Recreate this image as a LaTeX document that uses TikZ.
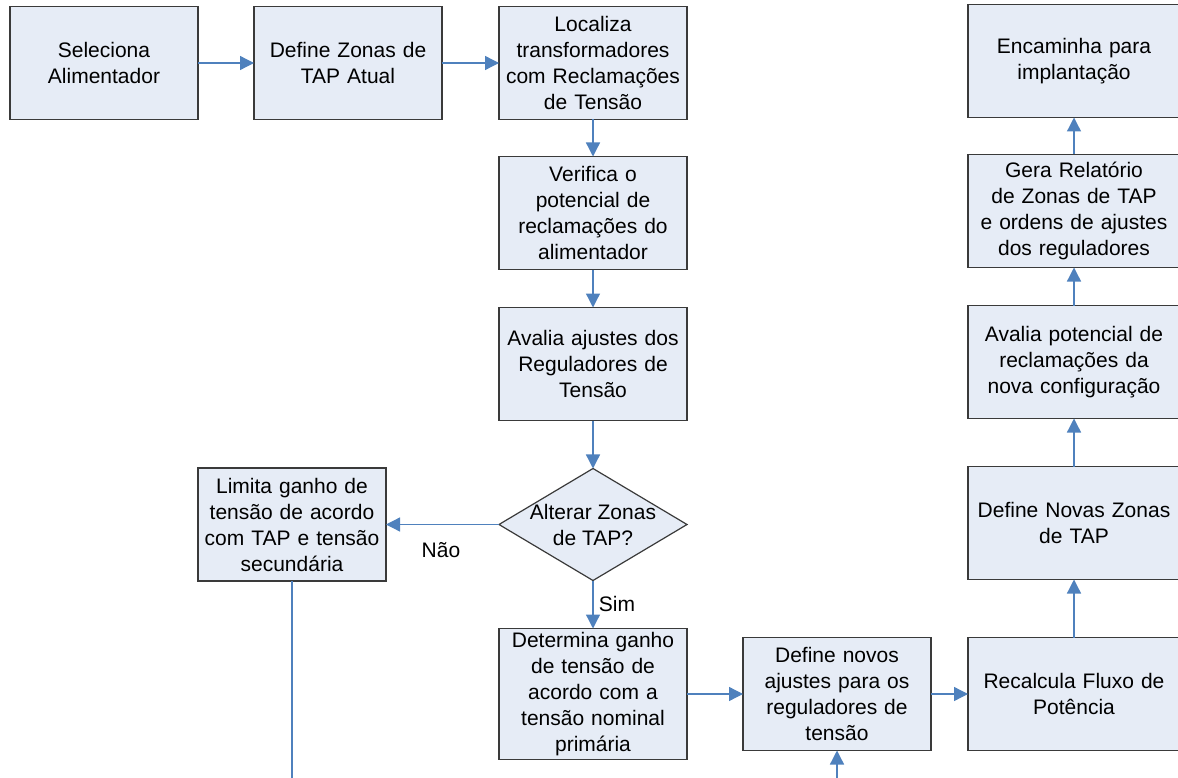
\documentclass[tikz,border=0pt]{standalone}
\usepackage{fontspec}
\setmainfont{Liberation Sans}
\usepackage{xcolor}
\usetikzlibrary{positioning, arrows.meta, shapes.geometric}
\definecolor{boxfill}{HTML}{E6ECF6}
\definecolor{boxline}{HTML}{3A3A3A}
\definecolor{flow}{HTML}{4F81BD}

\begin{document}
\begin{tikzpicture}[x=1pt, y=1pt,
  box/.style={rectangle, draw=boxline, line width=1.2pt, fill=boxfill,
              minimum width=188pt, minimum height=113pt, text width=186pt,
              align=center, inner sep=0pt, outer sep=0pt,
              font=\fontsize{21}{26}\selectfont},
  wbox/.style={box, minimum width=212pt, text width=210pt},
  tallbox/.style={box, minimum height=131pt},
  decision/.style={diamond, draw=boxline, line width=1.2pt, fill=boxfill,
              minimum width=188pt, minimum height=112pt, inner sep=0pt, outer sep=0pt},
  lbl/.style={font=\fontsize{21}{26}\selectfont, inner sep=0pt},
  arr/.style={-{Triangle[length=14pt, width=14pt]}, line width=1.3pt, flow},
  line/.style={line width=1.3pt, flow},
]
\useasboundingbox (0,0) rectangle (1178,-778);

%% Top row
\node[box] (sel) at (104,-63) {Seleciona\\Alimentador};
\node[box, right=56pt of sel] (def) {Define Zonas de\\TAP Atual};
\node[box, right=57pt of def] (loc) {Localiza\\transformadores\\com Reclamações\\de Tensão};

%% Middle column
\node[box, below=37pt of loc] (ver) {Verifica o\\potencial de\\reclamações do\\alimentador};
\node[box, below=38pt of ver] (ava) {Avalia ajustes dos\\Reguladores de\\Tensão};
\node[decision, below=48pt of ava] (alt) {};
\node[lbl, align=center] (altxt) at (alt) {Alterar Zonas\\de TAP?};
\node[box, left=113pt of alt] (lim) {Limita ganho de\\tensão de acordo\\com TAP e tensão\\secundária};
\node[tallbox, below=48pt of alt] (det) {Determina ganho\\de tensão de\\acordo com a\\tensão nominal\\primária};

%% Bottom row
\node[box, right=56pt of det] (nov) {Define novos\\ajustes para os\\reguladores de\\tensão};
\node[wbox, right=37pt of nov] (rec) {Recalcula Fluxo de\\Potência};

%% Right column
\node[wbox, above=58pt of rec] (dnz) {Define Novas Zonas\\de TAP};
\node[wbox, above=48pt of dnz] (apn) {Avalia potencial de\\reclamações da\\nova configuração};
\node[wbox, above=38pt of apn] (ger) {Gera Relatório\\de Zonas de TAP\\e ordens de ajustes\\dos reguladores};
\node[wbox, above=37pt of ger] (enc) {Encaminha para\\implantação};

%% Free ends below the frame
\coordinate (limend) at (lim.south |- 0,-790);
\coordinate (novin) at (nov.south |- 0,-790);

%% Arrows
\draw[arr] (sel) -- (def);
\draw[arr] (def) -- (loc);
\draw[arr] (loc) -- (ver);
\draw[arr] (ver) -- (ava);
\draw[arr] (ava) -- (alt);
\draw[arr] (alt) -- (lim);
\draw[arr] (alt) -- (det);
\draw[arr] (det) -- (nov);
\draw[arr] (nov) -- (rec);
\draw[arr] (rec) -- (dnz);
\draw[arr] (dnz) -- (apn);
\draw[arr] (apn) -- (ger);
\draw[arr] (ger) -- (enc);
\draw[line] (lim) -- (limend);
\draw[arr] (novin) -- (nov);

%% Branch labels
\node[lbl] (nao) at (441,-550) {Não};
\node[lbl] (sim) at (617,-604) {Sim};

\end{tikzpicture}
\end{document}
